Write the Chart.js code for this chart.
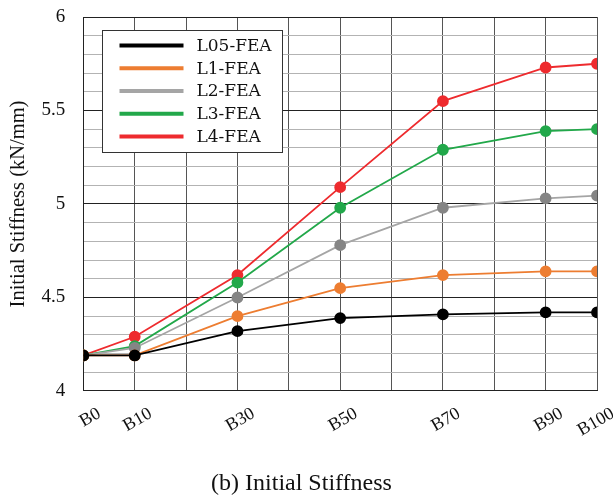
<!DOCTYPE html>
<html>
<head>
<meta charset="utf-8">
<script src="https://cdn.jsdelivr.net/npm/chart.js@4.4.0/dist/chart.umd.min.js"></script>
<style>
    html, body { margin: 0; padding: 0; background: #fff; }
    #wrap { width: 613px; height: 498px; }
</style>
</head>
<body>
<div id="wrap"><canvas id="stiffChart" width="613" height="498"></canvas></div>
<script>
// B-number of each beam case (used as x position)
const bValues = [0, 10, 30, 50, 70, 90, 100];
const bLabels = ["B0", "B10", "B30", "B50", "B70", "B90", "B100"];

// initial stiffness, kN/mm
const l05 = [4.19, 4.19, 4.32, 4.39, 4.41, 4.42, 4.42];
const l1  = [4.19, 4.19, 4.40, 4.55, 4.62, 4.64, 4.64];
const l2  = [4.19, 4.23, 4.50, 4.78, 4.98, 5.03, 5.045];
const l3  = [4.19, 4.24, 4.58, 4.98, 5.29, 5.39, 5.40];
const l4  = [4.19, 4.29, 4.62, 5.09, 5.55, 5.73, 5.75];

const seriesNames = ["L05-FEA", "L1-FEA", "L2-FEA", "L3-FEA", "L4-FEA"];
const seriesColors = ["#000000", "#ED7D31", "#A5A5A5", "#22A84A", "#EE2B2E"];
const markerColors = ["#000000", "#ED7D31", "#858585", "#22A84A", "#EE2B2E"];

const yTickLabels = ["4", "4.5", "5", "5.5", "6"];

const serif = "'Liberation Serif', 'Times New Roman', serif";

function makeSet(i, values) {
    return {
        label: seriesNames[i],
        data: bValues.map((b, k) => ({ x: b, y: values[k] })),
        borderColor: seriesColors[i],
        backgroundColor: markerColors[i],
        pointBackgroundColor: markerColors[i],
        pointBorderColor: markerColors[i],
        borderWidth: 1.8,
        pointRadius: 5,
        pointHoverRadius: 5,
        tension: 0,
        fill: false
    };
}

// legend box sitting inside the plot, white behind it
const boxLegend = {
    id: 'boxLegend',
    afterDatasetsDraw(chart) {
        const ctx = chart.ctx;
        const area = chart.chartArea;
        const x0 = Math.round(area.left + 19) + 0.5, y0 = Math.round(area.top + 13) + 0.5;
        const w = 180, h = 122;
        ctx.save();
        ctx.fillStyle = '#fff';
        ctx.fillRect(x0, y0, w, h);
        ctx.strokeStyle = '#333';
        ctx.lineWidth = 1;
        ctx.strokeRect(x0, y0, w, h);
        ctx.font = "17px 'DejaVu Serif', serif";
        ctx.textBaseline = 'middle';
        chart.data.datasets.forEach((ds, i) => {
            const yy = y0 + 15 + i * 22.75;
            ctx.strokeStyle = ds.borderColor;
            ctx.lineWidth = 4;
            ctx.beginPath();
            ctx.moveTo(x0 + 17, yy);
            ctx.lineTo(x0 + 81, yy);
            ctx.stroke();
            ctx.fillStyle = '#111';
            ctx.fillText(ds.label, x0 + 94, yy + 1);
        });
        ctx.restore();
    }
};

const ctx = document.getElementById('stiffChart').getContext('2d');

new Chart(ctx, {
    type: 'line',
    data: {
        datasets: [l05, l1, l2, l3, l4].map((v, i) => makeSet(i, v))
    },
    options: {
        responsive: false,
        animation: false,
        layout: { padding: { left: 6, right: 16, top: 17, bottom: 0 } },
        plugins: {
            legend: { display: false },
            tooltip: { enabled: false },
            title: {
                display: true,
                position: 'bottom',
                text: '(b) Initial Stiffness',
                color: '#111',
                font: { family: serif, size: 24, weight: 'normal' },
                padding: { top: 16, bottom: 0 }
            }
        },
        scales: {
            x: {
                type: 'linear',
                min: 0,
                max: 100,
                border: { display: true, color: '#222', width: 1 },
                grid: {
                    color: '#555',
                    lineWidth: 1,
                    drawTicks: false
                },
                ticks: {
                    stepSize: 10,
                    autoSkip: false,
                    minRotation: 30,
                    maxRotation: 30,
                    labelOffset: 16,
                    padding: 12,
                    color: '#111',
                    font: { family: serif, size: 18 },
                    callback: function (value) {
                        const k = bValues.indexOf(value);
                        return k >= 0 ? bLabels[k] : '';
                    }
                },
                // labels are shifted right, so no side room is needed for them
                afterFit: function (scale) {
                    scale.paddingLeft = 0;
                    scale.paddingRight = 0;
                }
            },
            y: {
                min: 4,
                max: 6,
                border: { display: true, color: '#222', width: 1 },
                grid: {
                    drawTicks: false,
                    color: (c) => {
                        const v = Math.round(c.tick.value * 10);
                        return v % 5 === 0 ? '#222' : '#b3b3b3';
                    },
                    lineWidth: 1
                },
                ticks: {
                    stepSize: 0.1,
                    autoSkip: false,
                    padding: 18,
                    color: '#111',
                    font: { family: serif, size: 19 },
                    callback: function (value) {
                        const v = Math.round(value * 10);
                        if (v % 5 !== 0) return '';
                        return yTickLabels[(v - 40) / 5];
                    }
                },
                title: {
                    display: true,
                    text: 'Initial Stiffness (kN/mm)',
                    color: '#111',
                    font: { family: serif, size: 20.5 },
                    padding: { top: 0, bottom: 6 }
                },
                // tighter axis band; top label may sit in the page margin
                afterFit: function (scale) {
                    scale.width = scale.width - 13;
                    scale.paddingTop = 0;
                }
            }
        }
    },
    plugins: [boxLegend]
});
</script>
</body>
</html>
